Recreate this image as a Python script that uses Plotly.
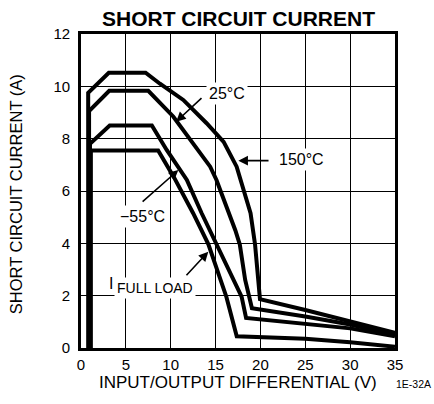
import plotly.graph_objects as go

# ---- data ----
x_150 = [0.8, 0.8, 3.1, 7.2, 8.8, 11.4, 14.0, 15.9, 17.35, 18.0, 18.9, 19.4, 19.75, 19.95, 25, 30, 35]
y_150 = [0, 9.75, 10.52, 10.52, 10.1, 9.48, 8.59, 7.88, 6.93, 6.2, 5.15, 3.96, 2.6, 1.87, 1.45, 1.02, 0.58]

x_25 = [0.9, 0.9, 3.15, 7.5, 10.3, 12.5, 14.4, 15.1, 16.4, 17.2, 17.7, 18.3, 18.75, 19.05, 25, 30, 35]
y_25 = [0, 9.05, 9.83, 9.83, 8.84, 7.82, 6.93, 6.42, 5.27, 4.5, 3.96, 2.6, 1.96, 1.52, 1.2, 0.9, 0.5]

x_m55 = [1.0, 1.0, 3.2, 7.9, 9.55, 11.8, 13.45, 15.1, 17.9, 18.4, 25, 30, 35]
y_m55 = [0, 7.8, 8.5, 8.5, 7.57, 6.42, 5.15, 3.96, 1.96, 1.15, 0.92, 0.75, 0.45]

x_fl = [1.1, 1.1, 8.6, 10.4, 12.5, 14.2, 16.2, 17.36, 25, 30, 35]
y_fl = [0, 7.55, 7.55, 6.5, 5.15, 3.96, 1.96, 0.45, 0.35, 0.22, 0.05]

x_ticks = [0, 5, 10, 15, 20, 25, 30, 35]
y_ticks = [0, 2, 4, 6, 8, 10, 12]

FONT = "Liberation Sans, Arial, sans-serif"

fig = go.Figure()
for xs, ys in [(x_150, y_150), (x_25, y_25), (x_m55, y_m55), (x_fl, y_fl)]:
    fig.add_trace(go.Scatter(x=xs, y=ys, mode="lines",
                             line=dict(color="black", width=4),
                             showlegend=False, hoverinfo="skip"))

axis_common = dict(showgrid=True, gridcolor="black", gridwidth=1.3,
                   showline=True, linecolor="black", linewidth=2.6, mirror=True,
                   zeroline=False, ticks="", automargin=False,
                   tickfont=dict(family=FONT, size=15, color="black"))

fig.update_layout(
    width=434, height=404,
    margin=dict(l=81, r=39, t=34, b=56, pad=0),
    paper_bgcolor="white", plot_bgcolor="white",
    font=dict(family=FONT, color="black"),
    xaxis=dict(range=[0, 35], tickvals=x_ticks, ticklabelstandoff=1, **axis_common),
    yaxis=dict(range=[0, 12], tickvals=y_ticks, ticklabelstandoff=5, **axis_common),
)

annots = []
# titles
annots.append(dict(text="<b>SHORT CIRCUIT CURRENT</b>", xref="paper", yref="paper",
                   x=0.503, y=1.049, showarrow=False, font=dict(size=21),
                   xanchor="center", yanchor="middle"))
annots.append(dict(text="INPUT/OUTPUT DIFFERENTIAL (V)", xref="paper", yref="paper",
                   x=0.5, y=-0.111, showarrow=False, font=dict(size=17),
                   xanchor="center", yanchor="middle"))
annots.append(dict(text="SHORT CIRCUIT CURRENT (A)", xref="paper", yref="paper",
                   x=-0.207, y=0.49, showarrow=False, font=dict(size=16.5), textangle=-90,
                   xanchor="center", yanchor="middle"))
annots.append(dict(text="1E-32A", xref="paper", yref="paper",
                   x=1.06, y=-0.115, showarrow=False, font=dict(size=10.5),
                   xanchor="center", yanchor="middle"))

# curve labels (white background)
labels = [("25°C", 16.28, 9.74, 16), ("150°C", 24.53, 7.22, 16),
          ("−55°C", 6.8, 5.02, 16), ("I", 3.34, 2.45, 16), ("FULL LOAD", 8.25, 2.29, 14)]
for t, x, y, s in labels:
    annots.append(dict(text=t, x=x, y=y, xref="x", yref="y", showarrow=False,
                       font=dict(size=s), bgcolor="white", borderpad=2,
                       xanchor="center", yanchor="middle"))

# arrows: (tip_x, tip_y, tail_x, tail_y)
arrows = [(10.6, 8.65, 13.6, 9.6), (17.54, 7.16, 21.07, 7.16),
          (10.85, 6.8, 6.7, 5.54), (14.19, 3.68, 11.6, 2.72)]
for tx, ty, sx, sy in arrows:
    annots.append(dict(text="", x=tx, y=ty, ax=sx, ay=sy, xref="x", yref="y",
                       axref="x", ayref="y", showarrow=True, arrowhead=2,
                       arrowsize=1.2, arrowwidth=1.6, arrowcolor="black"))

fig.update_layout(annotations=annots)
fig.write_html("out.html", config={"displayModeBar": False},
               post_script="document.body.style.margin='0';document.body.style.padding='0';")
